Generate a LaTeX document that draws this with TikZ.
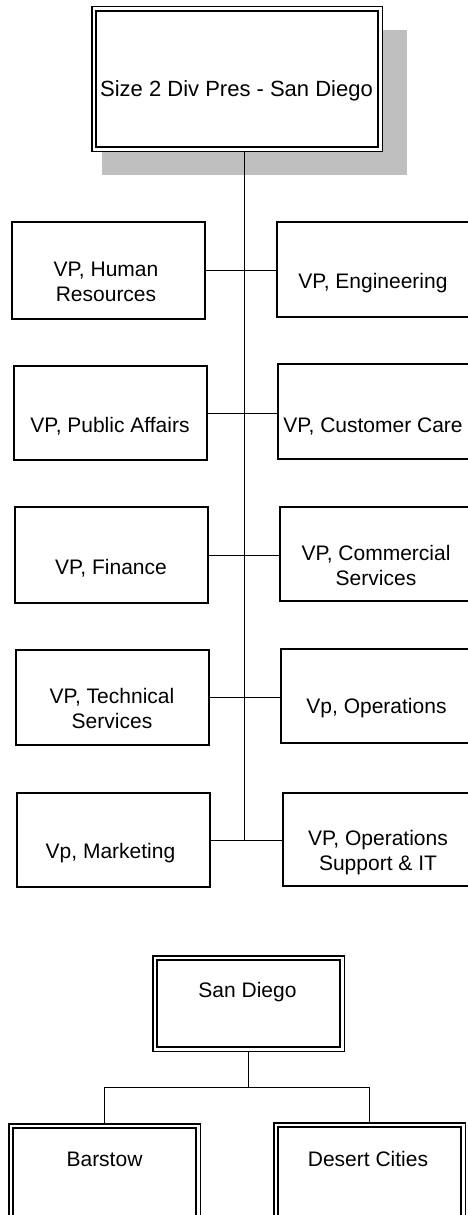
\documentclass[tikz,border=0pt]{standalone}
\usepackage{fontspec}
\setmainfont{Liberation Sans}
\usetikzlibrary{backgrounds}
\begin{document}
\begin{tikzpicture}[x=1pt,y=-1pt,
  box/.style={draw, line width=1.5pt, minimum width=193pt, inner sep=0pt, outer sep=0pt, anchor=north west, fill=white},
  dbox/.style={draw, double, double distance=2.6pt, line width=1.5pt, inner sep=0pt, outer sep=0pt, anchor=north west, fill=white},
  txt/.style={font=\fontsize{21}{25}\selectfont, inner sep=0pt, align=center},
  ttl/.style={font=\fontsize{22}{26}\selectfont, inner sep=0pt},
  conn/.style={line width=0.8pt},
  shade/.style={fill=gray!50, draw=none}]
\useasboundingbox (0,0) rectangle (468,1215);
\clip (0,0) rectangle (468,1215);

% top chart
\node[dbox, minimum width=286.4pt, minimum height=140.4pt] (title) at (93.8,8.8) {};
\node[box, minimum height=97pt] (hr)   at (12,222) {};
\node[box, minimum height=94pt] (pa)   at (14,366) {};
\node[box, minimum height=96pt] (fin)  at (15,507) {};
\node[box, minimum height=95pt] (tech) at (16,650) {};
\node[box, minimum height=94pt] (mkt)  at (17,793) {};
\node[box, minimum height=95pt] (eng)  at (277,222) {};
\node[box, minimum height=95pt] (cc)   at (278,364) {};
\node[box, minimum height=94pt] (com)  at (280,507) {};
\node[box, minimum height=94pt] (ops)  at (281,649) {};
\node[box, minimum height=93pt] (opss) at (283,793) {};
\coordinate (t) at (244,0);

% bottom chart
\node[dbox, minimum width=187.4pt, minimum height=91.4pt] (sd) at (154.8,957.8) {};
\node[dbox, minimum width=187.4pt, minimum height=100pt] (bar) at (10.8,1125.8) {};
\node[dbox, minimum width=187.4pt, minimum height=100pt] (des) at (275.8,1124.8) {};
\coordinate (j) at (248.5,1087);

% texts
\node[ttl, anchor=base] (titleT) at (236.5,96) {Size 2 Div Pres - San Diego};
\node[txt, anchor=north] (hrT) at (106,262) {VP, Human\\Resources};
\node[txt, anchor=base] (engT) at (373,288) {VP, Engineering};
\node[txt, anchor=base] (paT) at (110,432) {VP, Public Affairs};
\node[txt, anchor=base] (ccT) at (373,432) {VP, Customer Care};
\node[txt, anchor=base] (finT) at (111,574) {VP, Finance};
\node[txt, anchor=north] (comT) at (376,545) {VP, Commercial\\Services};
\node[txt, anchor=north] (techT) at (112,688) {VP, Technical\\Services};
\node[txt, anchor=base] (opsT) at (376.5,713) {Vp, Operations};
\node[txt, anchor=base] (mktT) at (110.5,858) {Vp, Marketing};
\node[txt, anchor=north] (opssT) at (378,830) {VP, Operations\\Support \& IT};
\node[txt, anchor=base] (sdT) at (247.5,997) {San Diego};
\node[txt, anchor=base] (barT) at (104.5,1166) {Barstow};
\node[txt, anchor=base] (desT) at (368,1166) {Desert Cities};

\begin{pgfonlayer}{background}
  \fill[shade] (102,30) rectangle (407,175);
  \draw[conn] (title.south -| t) -- (mkt.east -| t);
  \draw[conn] (hr.east) -- (hr.east -| eng.west);
  \draw[conn] (pa.east) -- (pa.east -| cc.west);
  \draw[conn] (fin.east) -- (fin.east -| com.west);
  \draw[conn] (tech.east) -- (tech.east -| ops.west);
  \draw[conn] (mkt.east) -- (mkt.east -| opss.west);
  \draw[conn] (sd.south) -- (j);
  \draw[conn] (bar.north) |- (j) -| (des.north);
\end{pgfonlayer}
\end{tikzpicture}
\end{document}
